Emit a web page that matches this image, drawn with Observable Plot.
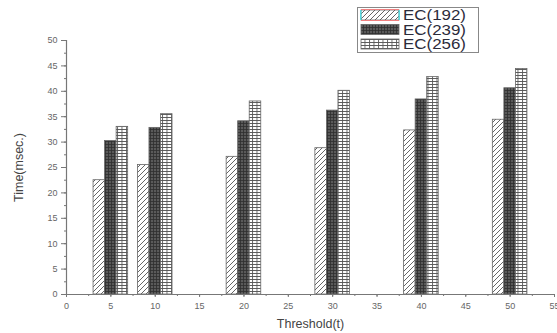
<!DOCTYPE html>
<html><head><meta charset="utf-8">
<script src="https://cdn.jsdelivr.net/npm/d3@7"></script>
<script src="https://cdn.jsdelivr.net/npm/@observablehq/plot@0.6"></script>
<style>
body{margin:0;background:#fff;}
#wrap{position:relative;width:557px;height:333px;font-family:Arial,"Liberation Sans",sans-serif;}
#overlay{position:absolute;left:0;top:0;pointer-events:none;}
</style></head>
<body><div id="wrap"></div>
<script>
const thresholds = [5, 10, 20, 30, 40, 50];
const ec192 = [22.5, 25.5, 27.1, 28.8, 32.3, 34.4];
const ec239 = [30.2, 32.8, 34.1, 36.2, 38.4, 40.6];
const ec256 = [33.0, 35.5, 38.0, 40.1, 42.8, 44.4];
const seriesNames = ["EC(192)", "EC(239)", "EC(256)"];
const xTicks = d3.range(0, 56, 5);
const yTicks = d3.range(0, 51, 5);

const W = 557, H = 333;
const patterns = ["url(#pDiag)", "url(#pDark)", "url(#pGrid)"];
const offsets = [-1.3, 0, 1.3];
const bw = 1.3;

const rows = [];
[ec192, ec239, ec256].forEach((vals, s) => {
  vals.forEach((v, i) => rows.push({t: thresholds[i], v, s}));
});

const chart = Plot.plot({
  width: W, height: H,
  marginLeft: 66, marginRight: 3, marginTop: 40, marginBottom: 39,
  style: {fontFamily: "Arial, 'Liberation Sans', sans-serif", background: "#fff"},
  x: {domain: [0, 55]},
  y: {domain: [0, 50]},
  marks: [
    Plot.rectY(rows, {
      x1: d => d.t + offsets[d.s] - bw / 2,
      x2: d => d.t + offsets[d.s] + bw / 2,
      y1: 0, y2: "v",
      fill: d => patterns[d.s],
      stroke: "#666", strokeWidth: 0.8
    }),
    Plot.axisY({ticks: d3.range(0, 50.1, 2.5), tickSize: 2, text: null, label: null, stroke: "#777"}),
    Plot.axisY({ticks: yTicks, tickSize: 5, tickPadding: 4, fontSize: 9, fill: "#666", stroke: "#777",
      label: "Time(msec.)", labelAnchor: "center", labelArrow: "none", labelOffset: 52}),
    Plot.axisX({ticks: d3.range(0, 55.1, 2.5), tickSize: 2, text: null, label: null, stroke: "#777"}),
    Plot.axisX({ticks: xTicks, tickSize: 3, tickPadding: 5, fontSize: 9, fill: "#666", stroke: "#777",
      label: "Threshold(t)", labelAnchor: "center", labelArrow: "none", labelOffset: 33}),
    Plot.ruleX([0], {y1: 0, y2: 50, stroke: "#777", strokeWidth: 1.2}),
    Plot.ruleY([0], {x1: 0, x2: 55, stroke: "#777", strokeWidth: 1.2})
  ]
});

d3.select(chart).selectAll("[aria-label='y-axis label'] text, [aria-label='x-axis label'] text")
  .attr("font-size", 12.5).attr("fill", "#444");

document.getElementById("wrap").appendChild(chart);

const ov = d3.select("#wrap").append("svg").attr("id", "overlay").attr("width", W).attr("height", H);
const defs = ov.append("defs");
const p1 = defs.append("pattern").attr("id", "pDiag").attr("patternUnits", "userSpaceOnUse").attr("width", 5).attr("height", 5);
p1.append("rect").attr("width", 5).attr("height", 5).attr("fill", "#fff");
p1.append("path").attr("d", "M-1,6 L6,-1 M-1,1 L1,-1 M4,6 L6,4").attr("stroke", "#555").attr("stroke-width", 0.9);
const p2 = defs.append("pattern").attr("id", "pDark").attr("patternUnits", "userSpaceOnUse").attr("width", 3).attr("height", 3);
p2.append("rect").attr("width", 3).attr("height", 3).attr("fill", "#5a5a5a");
p2.append("path").attr("d", "M0,0.5 H3 M0.5,0 V3").attr("stroke", "#2e2e2e").attr("stroke-width", 0.8);
const p3 = defs.append("pattern").attr("id", "pGrid").attr("patternUnits", "userSpaceOnUse").attr("width", 4.5).attr("height", 3);
p3.append("rect").attr("width", 4.5).attr("height", 3).attr("fill", "#fff");
p3.append("path").attr("d", "M0,0.5 H4.5 M0.5,0 V3").attr("stroke", "#555").attr("stroke-width", 0.9);

const lg = ov.append("g");
lg.append("rect").attr("x", 357.5).attr("y", 7.5).attr("width", 121).attr("height", 45)
  .attr("fill", "#fff").attr("stroke", "#888");
const rowY = [15, 29.5, 44];
seriesNames.forEach((name, i) => {
  const y = rowY[i];
  lg.append("rect").attr("x", 361).attr("y", y - 5).attr("width", 38).attr("height", 10)
    .attr("fill", patterns[i]).attr("stroke", "#666").attr("stroke-width", 0.8);
  if (i === 0) {
    lg.append("path").attr("d", `M361,${y-5.5} H399 M361,${y+5.5} H399`).attr("stroke", "#f08080").attr("stroke-width", 1.2);
    lg.append("path").attr("d", `M360.8,${y-5} V${y+5} M399.2,${y-5} V${y+5}`).attr("stroke", "#40e0e8").attr("stroke-width", 1.2);
  }
  lg.append("text").attr("x", 403).attr("y", y).attr("dy", "0.36em")
    .attr("font-size", 14).attr("textLength", 63).attr("lengthAdjust", "spacingAndGlyphs")
    .attr("fill", "#2b2b3a").text(name);
});
</script></body></html>
